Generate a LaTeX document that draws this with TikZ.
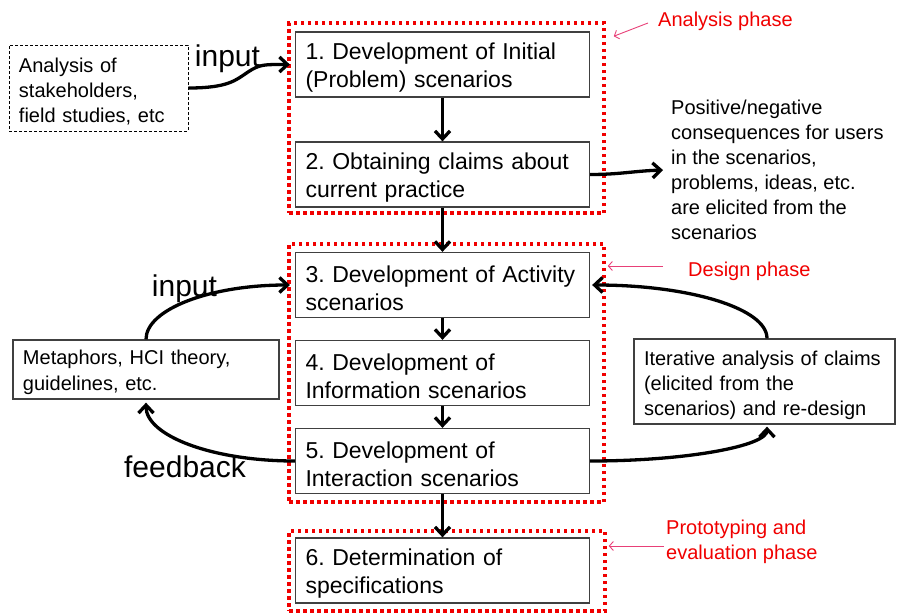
\documentclass[tikz,border=0pt]{standalone}
\usepackage{fontspec}
\setmainfont{Liberation Sans}
\usetikzlibrary{arrows.meta}
\definecolor{phred}{RGB}{240,0,0}
\definecolor{pinkln}{RGB}{232,64,120}
\definecolor{boxgray}{RGB}{64,64,64}
\frenchspacing
\begin{document}
\begin{tikzpicture}[x=1pt,y=-1pt,
  stepbox/.style={draw=boxgray, line width=1.3pt, fill=white, minimum width=294pt, minimum height=65pt, text width=274pt, inner xsep=10pt, inner ysep=0pt, align=left, font=\fontsize{23}{28}\selectfont, execute at begin node={\rule{0pt}{23pt}}},
  sidebox/.style={draw=boxgray, line width=1.3pt, fill=white, inner xsep=10pt, inner ysep=0pt, align=left, font=\fontsize{20}{25}\selectfont, execute at begin node={\rule{0pt}{20.6pt}}},
  dashbox/.style={draw=black, line width=0.9pt, dash pattern=on 3pt off 2pt},
  phase/.style={draw=phred, line width=3.5pt, dash pattern=on 3.5pt off 3.5pt, inner sep=0pt},
  freetext/.style={inner sep=0pt, align=left, font=\fontsize{20}{25}\selectfont},
  redlab/.style={inner sep=0pt, align=left, text=phred, font=\fontsize{20}{25}\selectfont},
  biglab/.style={inner sep=0pt, font=\fontsize{30}{36}\selectfont},
  conn/.style={line width=3.3pt, -{Straight Barb[length=8pt,width=15pt]}},
  pinkarr/.style={draw=pinkln, line width=0.9pt, -{Straight Barb[length=4pt,width=9pt]}}
]
\useasboundingbox (0,0) rectangle (897,613);

% phase frames
\node[phase, minimum width=315pt, minimum height=190pt] (phA) at (446.5,118) {};
\node[phase, minimum width=315pt, minimum height=258pt] (phD) at (446.5,373) {};
\node[phase, minimum width=316pt, minimum height=80pt] (phP) at (447,571) {};

% step boxes
\node[stepbox] (b1) at (442.5,64.5) {1. Development of Initial\\(Problem) scenarios};
\node[stepbox] (b2) at (442.5,174.5) {2. Obtaining claims about\\current practice};
\node[stepbox] (b3) at (442.5,285) {3. Development of Activity\\scenarios};
\node[stepbox] (b4) at (442.5,373) {4. Development of\\Information scenarios};
\node[stepbox] (b5) at (442.5,461) {5. Development of\\Interaction scenarios};
\node[stepbox] (b6) at (442.5,570.5) {6. Determination of\\specifications};

% side boxes
\node[sidebox, dashbox, minimum width=179pt, minimum height=86pt, text width=159pt, execute at begin node={\rule{0pt}{18.6pt}}] (inp) at (98.5,88) {Analysis of\\stakeholders,\\field studies, etc};
\node[sidebox, minimum width=266pt, minimum height=59pt, text width=246pt, font=\fontsize{20}{26}\selectfont] (met) at (146,369.5) {Metaphors, HCI theory,\\guidelines, etc.};
\node[sidebox, minimum width=261pt, minimum height=85pt, text width=241pt, execute at begin node={\rule{0pt}{22.6pt}}] (itr) at (764.5,381.5) {Iterative analysis of claims\\(elicited from the\\scenarios) and re-design};

% free text
\node[freetext, anchor=north west] (pos) at (671,100) {Positive/negative\\consequences for users\\in the scenarios,\\problems, ideas, etc.\\are elicited from the\\scenarios};

% labels
\node[biglab, anchor=base] (lin1) at (227.5,66) {input};
\node[biglab, anchor=base] (lin2) at (184.5,296) {input};
\node[biglab, anchor=base] (lfb) at (185,477) {feedback};

\node[redlab, anchor=base west] (labA) at (658,27) {Analysis phase};
\node[redlab, anchor=base west] (labD) at (688,276) {Design phase};
\node[redlab, anchor=north west] (labP) at (666,519.5) {Prototyping and\\evaluation phase};

% pink pointers
\coordinate (pA) at (648,23);
\coordinate (pD) at (663,266);
\coordinate (pP) at (664,546);
\draw[pinkarr] (pA) -- ([xshift=8pt,yshift=-15pt]phA.north east);
\draw[pinkarr] (pD) -- ([xshift=2pt]pD -| phD.east);
\draw[pinkarr] (pP) -- ([xshift=2pt]pP -| phP.east);

% connectors
\draw[conn] (inp.east) .. controls +(40,0) and +(-12,8) .. (248,72) .. controls +(12,-8) and +(-25,0) .. ([xshift=-5pt]b1.west);
\draw[conn] (b1.south) -- (b2.north);
\draw[conn] (b2.south) -- (b3.north);
\draw[conn] (b3.south) -- (b4.north);
\draw[conn] (b4.south) -- (b5.north);
\draw[conn] (b5.south) -- (b6.north);
\draw[conn] (b2.east) .. controls +(30,0) and +(-30,1) .. ([xshift=-8pt]pos.west);
\draw[conn] (met.north) .. controls +(0,-30) and +(-80,0) .. ([xshift=-5pt]b3.west);
\draw[conn] (b5.west) .. controls +(-83,0) and +(0,33) .. ([yshift=-3pt]met.south);
\draw[conn] (b5.east) .. controls +(98,0) and +(0,19) .. ([xshift=2.5pt,yshift=-2pt]itr.south);
\draw[conn] ([xshift=2.5pt]itr.north) .. controls +(0,-30) and +(97,0) .. ([xshift=2pt]b3.east);
\end{tikzpicture}
\end{document}
